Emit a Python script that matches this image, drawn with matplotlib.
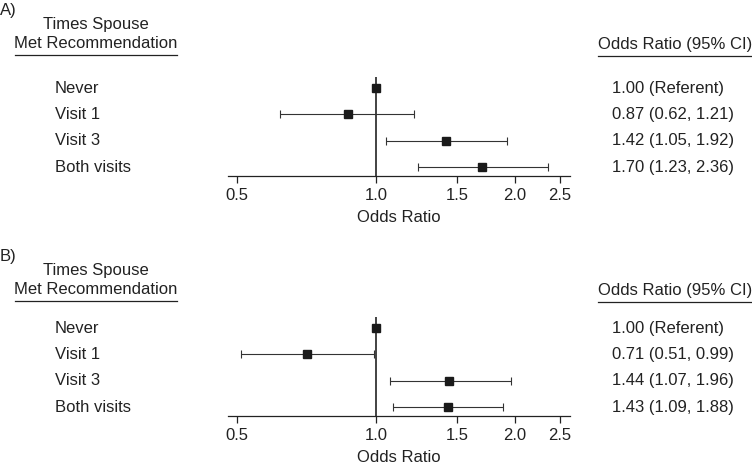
import numpy as np
import matplotlib
matplotlib.use("Agg")
import matplotlib.pyplot as plt
from matplotlib.lines import Line2D
from matplotlib import transforms

plt.rcParams['font.family'] = ['Liberation Sans', 'DejaVu Sans']

categories = ["Never", "Visit 1", "Visit 3", "Both visits"]

# panel A
or_a = [1.00, 0.87, 1.42, 1.70]
lo_a = [np.nan, 0.62, 1.05, 1.23]
hi_a = [np.nan, 1.21, 1.92, 2.36]
lab_a = ["1.00 (Referent)", "0.87 (0.62, 1.21)", "1.42 (1.05, 1.92)", "1.70 (1.23, 2.36)"]

# panel B
or_b = [1.00, 0.71, 1.44, 1.43]
lo_b = [np.nan, 0.51, 1.07, 1.09]
hi_b = [np.nan, 0.99, 1.96, 1.88]
lab_b = ["1.00 (Referent)", "0.71 (0.51, 0.99)", "1.44 (1.07, 1.96)", "1.43 (1.09, 1.88)"]

xticks = [0.5, 1.0, 1.5, 2.0, 2.5]

W, H = 752, 466
TXT = '#222222'
FS = 12

fig = plt.figure(figsize=(W / 100, H / 100), dpi=100)


def fx(px):
    return px / W


def fy(py):
    return 1 - py / H


def panel(letter, odds, lo, hi, labels, top, hdr):
    # top: pixel y of top of axes, hdr: pixel y of header line 2
    ax = fig.add_axes([fx(228), fy(top + 99), fx(570) - fx(228), 99 / H])
    ax.set_xscale('log')
    ax.set_xlim(0.478, 2.63)
    ax.set_ylim(3.34, -0.42)
    for s in ['top', 'left', 'right']:
        ax.spines[s].set_visible(False)
    ax.spines['bottom'].set_linewidth(0.9)
    ax.spines['bottom'].set_color(TXT)
    ax.set_yticks([])
    ax.set_xticks(xticks)
    ax.set_xticklabels([f"{t:.1f}" for t in xticks])
    ax.minorticks_off()
    ax.tick_params(axis='x', length=5, width=0.9, colors=TXT, labelsize=FS, pad=3.5)
    ax.set_xlabel("Odds Ratio", fontsize=FS, color=TXT, labelpad=5.5)
    ax.axvline(1.0, color=TXT, lw=1.2)

    y = np.arange(len(categories))
    odds = np.array(odds)
    lo = np.array(lo)
    hi = np.array(hi)
    m = ~np.isnan(lo)
    ax.errorbar(odds[m], y[m], xerr=[odds[m] - lo[m], hi[m] - odds[m]],
                fmt='none', ecolor='#333333', elinewidth=0.8, capsize=2.6, capthick=0.8)
    ax.plot(odds, y, 's', color='#1a1a1a', ms=5.5, zorder=3)

    tr = transforms.blended_transform_factory(fig.transFigure, ax.transData)
    for i, (c, l) in enumerate(zip(categories, labels)):
        ax.text(fx(55), i, c, transform=tr, ha='left', va='center', fontsize=FS, color=TXT)
        ax.text(fx(612), i, l, transform=tr, ha='left', va='center', fontsize=FS, color=TXT)

    fig.text(fx(0), fy(hdr - 34), letter, ha='left', va='center', fontsize=FS, color=TXT)
    fig.text(fx(96), fy(hdr - 20), "Times Spouse", ha='center', va='center', fontsize=FS, color=TXT)
    fig.text(fx(96), fy(hdr), "Met Recommendation", ha='center', va='center', fontsize=FS, color=TXT)
    fig.add_artist(Line2D([fx(15), fx(177)], [fy(hdr + 11), fy(hdr + 11)], color=TXT, lw=0.9))
    fig.text(fx(598), fy(hdr), "Odds Ratio (95% CI)", ha='left', va='center', fontsize=FS, color=TXT)
    fig.add_artist(Line2D([fx(598), fx(752)], [fy(hdr + 12), fy(hdr + 12)], color=TXT, lw=0.9))


panel("A)", or_a, lo_a, hi_a, lab_a, 77, 44)
panel("B)", or_b, lo_b, hi_b, lab_b, 317, 290)

fig.savefig("out.png", dpi=100)
